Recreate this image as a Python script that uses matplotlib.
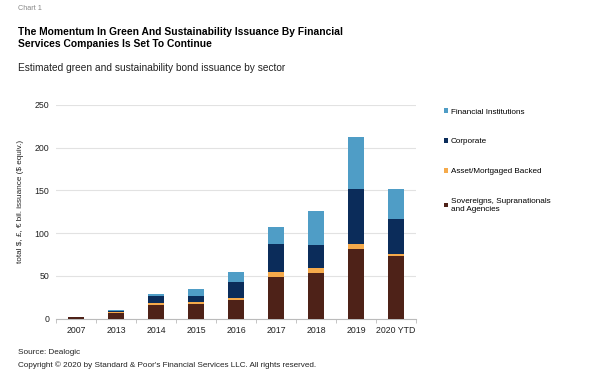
import numpy as np
import matplotlib
matplotlib.use('Agg')
import matplotlib.pyplot as plt
from matplotlib.patches import Patch

plt.rcParams['font.family'] = ['Liberation Sans', 'DejaVu Sans']

# Data ($ bil.)
years = ['2007', '2013', '2014', '2015', '2016', '2017', '2018', '2019', '2020 YTD']
sovereigns = [1.5, 7, 16, 17.5, 22, 48.5, 53, 82, 73]
asset_backed = [0.2, 0.5, 2, 1.5, 2.5, 6, 6, 5.5, 2.5]
corporate = [0.3, 2, 8, 8, 18, 32.5, 27.5, 64, 41.5]
financial = [0, 0.5, 3, 8, 12, 20.5, 39.5, 61.5, 35]

labels = ['Sovereigns, Supranationals\nand Agencies', 'Asset/Mortgaged Backed',
          'Corporate', 'Financial Institutions']
colors = ['#4e2218', '#f5aa4b', '#0b2c5a', '#4f9dc6']

fig = plt.figure(figsize=(6, 3.83), dpi=100)
ax = fig.add_axes([56 / 600, 1 - 318.7 / 383, 360 / 600, 213.7 / 383])

x = np.arange(len(years))
bottom = np.zeros(len(years))
for vals, c in zip([sovereigns, asset_backed, corporate, financial], colors):
    ax.bar(x, vals, width=0.42, bottom=bottom, color=c, zorder=3)
    bottom += np.array(vals)

ax.set_xlim(-0.5, len(years) - 0.5)
ax.set_ylim(0, 250)
ax.set_yticks([0, 50, 100, 150, 200, 250])
ax.set_xticks(x)
ax.set_xticklabels(years)
ax.set_xticks(np.arange(-0.5, len(years)), minor=True)
ax.tick_params(axis='x', which='major', length=0, labelsize=6.3, pad=5, colors='#222222')
ax.tick_params(axis='x', which='minor', length=3, color='#bbbbbb')
ax.tick_params(axis='y', length=0, labelsize=6.3, pad=5, colors='#222222')
ax.grid(axis='y', color='#e2e2e2', linewidth=0.8, zorder=0)
for s in ['top', 'right', 'left']:
    ax.spines[s].set_visible(False)
ax.spines['bottom'].set_color('#bbbbbb')
ax.spines['bottom'].set_linewidth(0.8)
ax.set_ylabel('total \\$, £, € bil. issuance (\\$ equiv.)', fontsize=5.9, color='#222222')
ax.yaxis.set_label_coords(-32 / 360, 0.548)

handles = [Patch(facecolor=c) for c in colors[::-1]]
leg = fig.legend(handles, labels[::-1], loc='upper left', bbox_to_anchor=(441 / 600, 1 - 105 / 383),
                 frameon=False, fontsize=5.9, handlelength=0.5, handleheight=0.5,
                 handletextpad=0.3, labelspacing=2.75, borderaxespad=0)
leg.get_texts()[3].set_linespacing(1.35)

fig.text(18 / 600, 1 - 8 / 383, 'Chart 1', fontsize=5.2, color='#888888', va='center')
fig.text(18 / 600, 1 - 38 / 383,
         'The Momentum In Green And Sustainability Issuance By Financial\nServices Companies Is Set To Continue',
         fontsize=7.4, fontweight='bold', va='center', linespacing=1.15)
fig.text(18 / 600, 1 - 68 / 383, 'Estimated green and sustainability bond issuance by sector',
         fontsize=7.3, va='center', color='#222222')
fig.text(18 / 600, 1 - 352 / 383, 'Source: Dealogic', fontsize=5.9, va='center', color='#222222')
fig.text(18 / 600, 1 - 365 / 383,
         'Copyright © 2020 by Standard & Poor\'s Financial Services LLC. All rights reserved.',
         fontsize=5.9, va='center', color='#222222')

fig.savefig('out.png', dpi=100)
